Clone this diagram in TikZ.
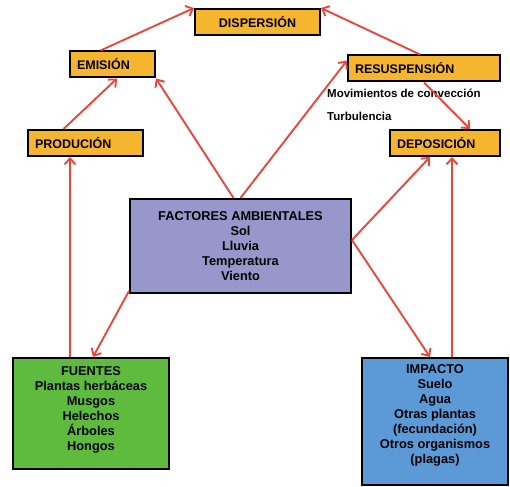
\documentclass[tikz,border=0pt]{standalone}
\usepackage{fontspec}
\setmainfont{Liberation Sans}
\usetikzlibrary{arrows.meta}

\definecolor{naranja}{HTML}{F6B52E}
\definecolor{morado}{HTML}{9797CB}
\definecolor{verde}{HTML}{5EBB3D}
\definecolor{azul}{HTML}{5B9AD6}
\definecolor{rojo}{HTML}{E9473B}

\begin{document}
\begin{tikzpicture}[x=1pt, y=-1pt,
    caja/.style={draw=black, line width=2pt, inner sep=0pt, font=\bfseries\fontsize{12.5}{15}\selectfont},
    etapa/.style={caja, fill=naranja, text width=#1-14pt, minimum width=#1, minimum height=26pt, align=left},
    grupo/.style={caja, align=center, font=\bfseries\fontsize{12.8}{15}\selectfont},
    nota/.style={anchor=west, inner sep=0pt, font=\bfseries\fontsize{11.5}{13}\selectfont},
    flecha/.style={->, draw=rojo, line width=1.9pt},
    >={Straight Barb[length=6pt, width=11pt]}]
    \useasboundingbox (0, 0) rectangle (510, 486);

    \node[etapa=125pt, align=center] (disp) at (257.5, 22) {DISPERSIÓN};
    \node[etapa=85pt] (emis) at (112.5, 64.5) {EMISIÓN};
    \node[etapa=152pt] (resus) at (424, 68.5) {RESUSPENSIÓN};
    \node[etapa=115pt] (prod) at (85.5, 143) {PRODUCIÓN};
    \node[etapa=110pt] (depos) at (445, 143) {DEPOSICIÓN};

    \node[nota] (mov) at (327, 93) {Movimientos de convección};
    \node[nota] (turb) at (327, 116) {Turbulencia};

    \node[grupo, fill=morado, minimum width=221pt, minimum height=94pt] (fact) at (240.5, 246)
        {FACTORES AMBIENTALES\\Sol\\Lluvia\\Temperatura\\Viento};
    \node[grupo, fill=verde, minimum width=156pt, minimum height=111pt] (fuen) at (91, 413.5)
        {FUENTES\\Plantas herbáceas\\Musgos\\Helechos\\Árboles\\Hongos\\[-6pt]\mbox{}};
    \node[grupo, fill=azul, minimum width=146pt, minimum height=127pt] (imp) at (435, 421.5)
        {IMPACTO\\Suelo\\Agua\\Otras plantas\\(fecundación)\\Otros organismos\\(plagas)\\\mbox{}};

    \draw[flecha] ([xshift=-12pt]emis.north) to (disp.north west);
    \draw[flecha] ([xshift=-4pt]resus.north) to (disp.north east);
    \draw[flecha] ([xshift=-22pt]prod.north) to ([xshift=4.5pt]emis.south);
    \draw[flecha] ([xshift=-7pt]fact.north) to (emis.south east);
    \draw[flecha] (fact.north) to ([yshift=8pt]resus.west);
    \draw[flecha] (resus.south) to ([xshift=25pt]depos.north);
    \draw[flecha] ([yshift=6pt]fact.east) to ([xshift=-15pt]depos.south);
    \draw[flecha] ([xshift=17pt]imp.north) to ([xshift=7pt]depos.south);
    \draw[flecha] ([yshift=6pt]fact.east) to ([xshift=-5pt]imp.north);
    \draw[flecha] ([yshift=3pt]fact.south west) to ([xshift=2pt]fuen.north);
    \draw[flecha] ([xshift=-21pt]fuen.north) to ([xshift=-15.5pt]prod.south);
\end{tikzpicture}
\end{document}
